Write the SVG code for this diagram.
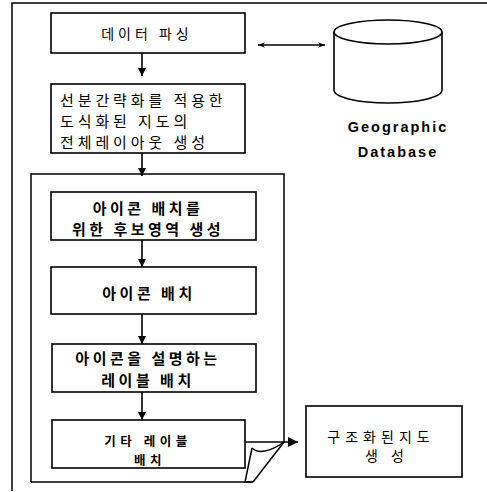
<svg xmlns="http://www.w3.org/2000/svg" width="487" height="492" viewBox="0 0 487 492">
<defs>
<style>
.frame{fill:none;stroke:#000;stroke-width:1.5}
.box{fill:#fff;stroke:#000;stroke-width:1.6}
.line{fill:none;stroke:#000;stroke-width:1.6}
.kr{font-family:"Noto Sans CJK KR","Noto Sans",sans-serif;font-size:14px;fill:#000;letter-spacing:4px}
.krb{font-family:"Noto Sans CJK KR","Noto Sans",sans-serif;font-size:15px;font-weight:bold;fill:#000;letter-spacing:3.5px}
.en{font-family:"Liberation Sans",Arial,sans-serif;font-size:14.5px;font-weight:bold;fill:#000;letter-spacing:2px}
</style>
<marker id="ah" viewBox="0 0 10 10" refX="10" refY="5" markerWidth="8" markerHeight="8" markerUnits="userSpaceOnUse" orient="auto">
<path d="M0,0 L10,5 L0,10 Z" fill="#000"/>
</marker>
<marker id="ahs" viewBox="0 0 10 10" refX="10" refY="5" markerWidth="7" markerHeight="7" markerUnits="userSpaceOnUse" orient="auto-start-reverse">
<path d="M0,1 L10,5 L0,9 L3,5 Z" fill="#000"/>
</marker>
<marker id="ahb" viewBox="0 0 10 10" refX="10" refY="5" markerWidth="10" markerHeight="10" markerUnits="userSpaceOnUse" orient="auto">
<path d="M0,0 L10,5 L0,10 Z" fill="#000"/>
</marker>
</defs>
<rect width="487" height="492" fill="#fff"/>

<g id="outer-frame">
<path class="frame" d="M12,491 L12,3 L487,3"/>
</g>

<g id="inner-frame">
<path class="frame" d="M31,482 L31,174 L284,174 L284,442"/>
<path class="frame" d="M31,482 L253,482"/>
<path class="frame" d="M284,442 L253,482"/>
<path class="frame" d="M252,448 C258,454 270,452 284,442"/>
<path class="frame" d="M252,448 L245,482 L253,482"/>
</g>

<g id="connectors">
<path class="line" d="M142,53 L142,76" marker-end="url(#ah)"/>
<path class="line" d="M258,45 L325,45" marker-start="url(#ahs)" marker-end="url(#ahs)"/>
<path class="line" d="M142,153 L142,176" marker-end="url(#ah)"/>
<path class="line" d="M142,240 L142,267" marker-end="url(#ah)"/>
<path class="line" d="M142,314 L142,344" marker-end="url(#ah)"/>
<path class="line" d="M142,392 L142,420" marker-end="url(#ah)"/>
<path class="line" d="M245,442 L298,442" marker-end="url(#ahb)"/>
</g>

<g id="node-parsing">
<rect class="box" x="51" y="13" width="194" height="40"/>
<text class="kr" x="147" y="39" text-anchor="middle">데이터 파싱</text>
</g>

<g id="node-layout">
<rect class="box" x="51" y="84" width="194" height="69"/>
<text class="kr" x="60" y="106" style="font-size:15px;letter-spacing:3.9px">선분간략화를 적용한</text>
<text class="kr" x="60" y="127" style="font-size:15px;letter-spacing:3.9px">도식화된 지도의</text>
<text class="kr" x="60" y="148" style="font-size:15px;letter-spacing:3.9px">전체레이아웃 생성</text>
</g>

<g id="node-database">
<path class="box" d="M334,32 L334,90 A54,13 0 0 0 442,90 L442,32"/>
<ellipse class="box" cx="388" cy="32" rx="54" ry="12"/>
<text class="en" x="398" y="132" text-anchor="middle">Geographic</text>
<text class="en" x="398" y="157" text-anchor="middle">Database</text>
</g>

<g id="node-candidate">
<rect class="box" x="51" y="192" width="205" height="48"/>
<text class="krb" x="148" y="214" text-anchor="middle">아이콘 배치를</text>
<text class="krb" x="148" y="235" text-anchor="middle">위한 후보영역 생성</text>
</g>

<g id="node-icon">
<rect class="box" x="51" y="267" width="205" height="47"/>
<text class="krb" x="149" y="299" text-anchor="middle">아이콘 배치</text>
</g>

<g id="node-icon-label">
<rect class="box" x="52" y="344" width="204" height="48"/>
<text class="krb" x="148" y="364" text-anchor="middle">아이콘을 설명하는</text>
<text class="krb" x="148" y="386" text-anchor="middle">레이블 배치</text>
</g>

<g id="node-other-label">
<rect class="box" x="52" y="420" width="193" height="48"/>
<text class="krb" x="148" y="446" text-anchor="middle" style="font-size:12.5px;letter-spacing:4.5px">기타  레이블</text>
<text class="krb" x="150" y="465" text-anchor="middle" style="font-size:12.5px;letter-spacing:4.5px">배치</text>
</g>

<g id="node-result">
<rect class="box" x="306" y="406" width="156" height="71"/>
<text class="kr" x="381" y="442" text-anchor="middle" style="letter-spacing:5px">구조화된지도</text>
<text class="kr" x="387" y="461" text-anchor="middle" style="letter-spacing:5px">생 성</text>
</g>
</svg>
